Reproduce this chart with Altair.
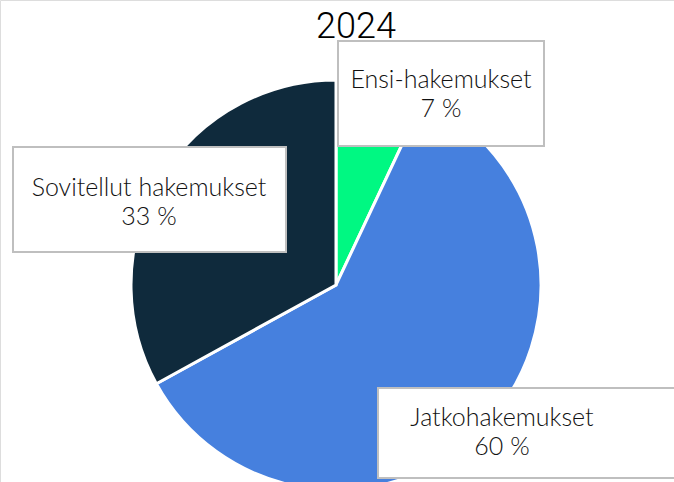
import altair as alt
import pandas as pd

# Data
categories = ["Ensi-hakemukset", "Jatkohakemukset", "Sovitellut hakemukset"]
shares = [7, 60, 33]
colors = ["#00F882", "#4680DE", "#0F2A3C"]
title_text = "2024"

# Layout for label boxes (pixel positions, annotation layout)
box_x0 = [338, 378, 13]
box_x1 = [544, 680, 286]
box_y0 = [41, 388, 147]
box_y1 = [146, 478, 252]
text_xc = [441, 502, 149]
text_yc = [94, 432, 202]

pie_df = pd.DataFrame({"cat": categories, "share": shares, "ord": list(range(len(categories)))})

lab_df = pd.DataFrame({
    "cat": categories,
    "line": [[c, f"{v} %"] for c, v in zip(categories, shares)],
    "x0": box_x0, "x1": box_x1, "y0": box_y0, "y1": box_y1,
    "xc": text_xc, "yc": [v - 14 for v in text_yc],
})

pie = alt.Chart(pie_df).mark_arc(outerRadius=205, stroke="white", strokeWidth=3).encode(
    theta=alt.Theta("share:Q", stack=True),
    order=alt.Order("ord:Q"),
    color=alt.Color("cat:N", scale=alt.Scale(domain=categories, range=colors), legend=None),
    x=alt.value(336),
    y=alt.value(285),
)

boxes = alt.Chart(lab_df).mark_rect(fill="white", stroke="#BFBFBF", strokeWidth=2).encode(
    x=alt.X("x0:Q", scale=None),
    x2="x1:Q",
    y=alt.Y("y0:Q", scale=None),
    y2="y1:Q",
)

texts = alt.Chart(lab_df).mark_text(
    font="Lato", fontSize=25, fontWeight=300, color="#111111", align="center",
    baseline="middle", lineHeight=29
).encode(
    x=alt.X("xc:Q", scale=None),
    y=alt.Y("yc:Q", scale=None),
    text="line",
)

title = alt.Chart(pd.DataFrame({"t": [title_text]})).mark_text(
    font="Roboto", fontSize=36, fontWeight=300, color="black", align="center", baseline="alphabetic"
).encode(x=alt.value(356), y=alt.value(38), text="t:N")

chart = alt.layer(pie, boxes, texts, title).properties(
    width=674, height=482, autosize=alt.AutoSizeParams(type="none"), padding=0
).configure_view(stroke=None, strokeWidth=0).configure(background="white")

chart.save("out.html", embed_options={"renderer": "svg", "actions": False})
